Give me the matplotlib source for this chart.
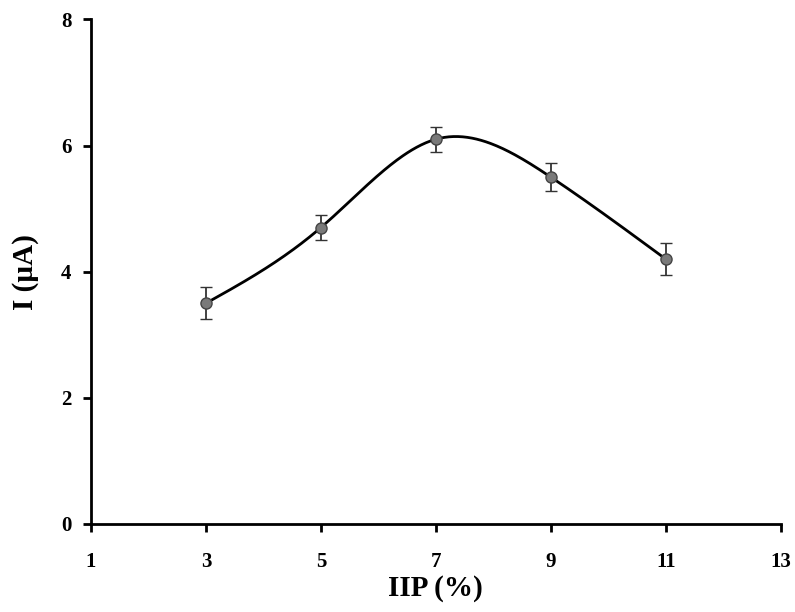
import numpy as np
import matplotlib.pyplot as plt

plt.rcParams['font.family'] = ['Liberation Serif']
plt.rcParams['font.weight'] = 'bold'

# IIP content (%) vs peak current
iip = [3, 5, 7, 9, 11]
current = [3.5, 4.7, 6.1, 5.5, 4.2]
err = [0.25, 0.2, 0.2, 0.22, 0.26]
x_ticks = [1, 3, 5, 7, 9, 11, 13]
y_ticks = [0, 2, 4, 6, 8]


def natural_spline(x, y, xs):
    # plain natural cubic spline so the curve passes through every point
    x = np.asarray(x, float)
    y = np.asarray(y, float)
    n = len(x)
    h = np.diff(x)
    A = np.zeros((n, n))
    b = np.zeros(n)
    A[0, 0] = A[-1, -1] = 1
    for i in range(1, n - 1):
        A[i, i - 1] = h[i - 1]
        A[i, i] = 2 * (h[i - 1] + h[i])
        A[i, i + 1] = h[i]
        b[i] = 3 * ((y[i + 1] - y[i]) / h[i] - (y[i] - y[i - 1]) / h[i - 1])
    c = np.linalg.solve(A, b)
    idx = np.clip(np.searchsorted(x, xs) - 1, 0, n - 2)
    dx = xs - x[idx]
    bb = (y[1:] - y[:-1]) / h - h * (2 * c[:-1] + c[1:]) / 3
    d = (c[1:] - c[:-1]) / (3 * h)
    return y[idx] + bb[idx] * dx + c[idx] * dx ** 2 + d[idx] * dx ** 3


fig = plt.figure(figsize=(7.95, 6.12), dpi=100)
ax = fig.add_axes([0.1145, 0.1438, 0.8675, 0.8245])

xs = np.linspace(iip[0], iip[-1], 300)
ax.plot(xs, natural_spline(iip, current, xs), color='black', lw=2, zorder=2)
ax.errorbar(iip, current, yerr=err, fmt='o', color='#333333', ecolor='#333333',
            elinewidth=1.3, capsize=4, capthick=1.3, markersize=8,
            markerfacecolor='#7a7a7a', markeredgecolor='#444444', markeredgewidth=1,
            zorder=3)

ax.set_xlim(1, 13)
ax.set_ylim(0, 8)
ax.set_xticks(x_ticks)
ax.set_yticks(y_ticks)
ax.spines['top'].set_visible(False)
ax.spines['right'].set_visible(False)
for s in ['left', 'bottom']:
    ax.spines[s].set_linewidth(2)
ax.tick_params(direction='out', length=6, width=2, labelsize=15)
ax.tick_params(axis='x', pad=14)
ax.tick_params(axis='y', pad=8)
for lab in ax.get_xticklabels() + ax.get_yticklabels():
    lab.set_fontweight('bold')

ax.set_xlabel('IIP (%)', fontsize=21, fontweight='bold', labelpad=2)
ax.set_ylabel('I (µA)', fontsize=21, fontweight='bold', labelpad=16)

fig.savefig('out.png', dpi=100)
